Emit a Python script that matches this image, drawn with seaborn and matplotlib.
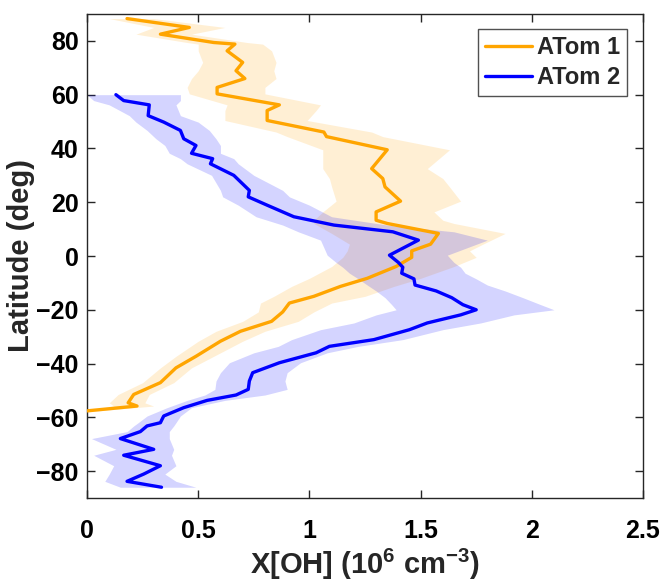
import numpy as np
import pandas as pd
import matplotlib
matplotlib.use("Agg")
import matplotlib.pyplot as plt
import seaborn as sns

# ATom 1 zonal-mean OH profile (latitude, mean, lower/upper spread)
lat_atom1 = [88.3, 85.0, 82.5, 79.4, 78.8, 76.3, 72.0, 68.9, 66.0, 62.7, 60.3,
             56.2, 54.1, 50.4, 46.1, 44.4, 39.5, 32.5, 28.8, 25.7, 20.4, 16.4,
             13.3, 12.1, 8.4, 4.4, 1.9, -0.5, -3.9, -8.3, -11.3, -15.0, -17.5,
             -20.8, -24.3, -28.0, -31.7, -37.3, -41.6, -47.1, -51.5, -54.6,
             -55.8, -57.6]
oh_atom1 = [0.18, 0.46, 0.33, 0.57, 0.665, 0.63, 0.70, 0.67, 0.71, 0.585, 0.585,
            0.865, 0.81, 0.81, 1.065, 1.077, 1.35, 1.28, 1.33, 1.34, 1.41, 1.30,
            1.30, 1.35, 1.58, 1.545, 1.46, 1.46, 1.39, 1.26, 1.14, 1.02, 0.91,
            0.88, 0.83, 0.69, 0.60, 0.49, 0.40, 0.33, 0.21, 0.185,
            0.225, 0.0]
lo_atom1 = [0.10, 0.30, 0.22, 0.45, 0.50, 0.50, 0.52, 0.50, 0.47, 0.45, 0.46,
            0.63, 0.62, 0.62, 0.85, 0.90, 1.06, 1.06, 1.09, 1.10, 1.12, 1.06,
            1.02, 1.02, 1.10, 1.18, 1.17, 1.15, 1.10, 1.00, 0.92, 0.84, 0.78,
            0.77, 0.70, 0.58, 0.50, 0.40, 0.33, 0.25, 0.14, 0.10,
            0.12, 0.0]
hi_atom1 = [0.30, 0.62, 0.47, 0.72, 0.79, 0.83, 0.85, 0.84, 0.85, 0.80, 0.80,
            1.05, 1.03, 0.99, 1.28, 1.33, 1.63, 1.53, 1.60, 1.63, 1.68, 1.56,
            1.60, 1.65, 1.88, 1.78, 1.72, 1.75, 1.65, 1.50, 1.38, 1.25, 1.10,
            1.02, 0.95, 0.80, 0.70, 0.57, 0.47, 0.39, 0.28, 0.26,
            0.30, 0.05]

# ATom 2 zonal-mean OH profile
lat_atom2 = [60.0, 57.8, 56.2, 52.2, 49.8, 46.7, 43.6, 41.1, 38.2, 36.2, 34.3,
             30.0, 24.4, 22.0, 18.9, 14.6, 11.5, 9.0, 5.9, 0.3, -2.4, -4.2,
             -6.4, -8.5, -10.8, -13.0, -15.5, -18.1, -20.0, -21.9, -24.9, -27.4,
             -31.1, -33.6, -36.0, -39.7, -43.4, -46.5, -49.6, -51.7, -53.7,
             -56.4, -59.5, -62.0, -63.2, -65.3, -67.9, -71.9, -74.1, -78.0,
             -81.1, -83.8, -86.0]
oh_atom2 = [0.13, 0.165, 0.28, 0.275, 0.345, 0.42, 0.435, 0.49, 0.47, 0.565, 0.555,
            0.66, 0.73, 0.725, 0.81, 0.93, 1.11, 1.375, 1.49, 1.36, 1.40, 1.42,
            1.415, 1.47, 1.475, 1.57, 1.64, 1.69, 1.75, 1.68, 1.53, 1.45,
            1.29, 1.09, 1.03, 0.865, 0.745, 0.73, 0.725, 0.67, 0.54,
            0.435, 0.345, 0.33, 0.27, 0.24, 0.15, 0.30, 0.165, 0.33,
            0.255, 0.18, 0.335]
lo_atom2 = [0.00, 0.03, 0.10, 0.19, 0.22, 0.27, 0.31, 0.35, 0.37, 0.42, 0.45,
            0.56, 0.60, 0.61, 0.68, 0.76, 0.88, 0.95, 1.05, 1.08, 1.12, 1.15,
            1.18, 1.22, 1.26, 1.30, 1.34, 1.37, 1.39, 1.30, 1.20, 1.05,
            0.92, 0.86, 0.75, 0.64, 0.60, 0.58, 0.575, 0.53, 0.45,
            0.36, 0.27, 0.23, 0.21, 0.18, 0.02, 0.13, 0.03, 0.12,
            0.10, 0.08, 0.15]
hi_atom2 = [0.42, 0.42, 0.40, 0.42, 0.50, 0.55, 0.58, 0.60, 0.60, 0.66, 0.68,
            0.75, 0.88, 0.91, 1.00, 1.10, 1.35, 1.65, 1.80, 1.62, 1.65, 1.68,
            1.70, 1.75, 1.80, 1.88, 1.96, 2.04, 2.10, 1.92, 1.77, 1.60,
            1.42, 1.22, 1.08, 0.96, 0.90, 0.89, 0.90, 0.80, 0.62,
            0.47, 0.42, 0.40, 0.39, 0.37, 0.37, 0.39, 0.38, 0.40,
            0.35, 0.40, 0.49]

campaigns = ["ATom 1", "ATom 2"]
colors = {"ATom 1": "#FFA500", "ATom 2": "#0000FF"}
x_ticks = [0, 0.5, 1, 1.5, 2, 2.5]
x_tick_labels = ["0", "0.5", "1", "1.5", "2", "2.5"]
y_ticks = [-80, -60, -40, -20, 0, 20, 40, 60, 80]

df = pd.concat([
    pd.DataFrame({"lat": lat_atom1, "oh": oh_atom1, "lo": lo_atom1,
                  "hi": hi_atom1, "campaign": "ATom 1"}),
    pd.DataFrame({"lat": lat_atom2, "oh": oh_atom2, "lo": lo_atom2,
                  "hi": hi_atom2, "campaign": "ATom 2"}),
], ignore_index=True)

sns.set_theme(style="white")
plt.rcParams["font.family"] = ["Liberation Sans", "DejaVu Sans"]
plt.rcParams["font.weight"] = "bold"
plt.rcParams["mathtext.fontset"] = "custom"
plt.rcParams["mathtext.rm"] = "Liberation Sans:bold"
plt.rcParams["mathtext.bf"] = "Liberation Sans:bold"
plt.rcParams["mathtext.default"] = "rm"

fig = plt.figure(figsize=(6.65, 5.85), dpi=100)
ax = fig.add_axes([87 / 665, 87 / 585, (643 - 87) / 665, (498 - 14) / 585])

# shaded spread behind each profile
for name in campaigns:
    sub = df[df["campaign"] == name]
    ax.fill_betweenx(sub["lat"], sub["lo"], sub["hi"], color=colors[name],
                     alpha=0.17, linewidth=0, zorder=1)

sns.lineplot(data=df, x="oh", y="lat", hue="campaign", palette=colors,
             hue_order=campaigns, orient="y", estimator=None, sort=True,
             linewidth=2.4, ax=ax, zorder=3)

ax.set_xlim(0, 2.5)
ax.set_ylim(-90, 90)
ax.set_xticks(x_ticks)
ax.set_xticklabels(x_tick_labels)
ax.set_yticks(y_ticks)

ax.tick_params(axis="both", direction="in", length=6, width=1, colors="#262626",
               labelcolor="black", labelsize=18, bottom=True, left=True,
               top=True, right=True)
ax.tick_params(axis="x", pad=15)
ax.tick_params(axis="y", pad=6)
for lab in ax.get_xticklabels() + ax.get_yticklabels():
    lab.set_fontweight("bold")
for sp in ax.spines.values():
    sp.set_color("#262626")
    sp.set_linewidth(1.0)

ax.set_xlabel(r"X[OH] (10$^{6}$ cm$^{-3}$)", fontsize=21, fontweight="bold",
              labelpad=3)
ax.set_ylabel("Latitude (deg)", fontsize=21, fontweight="bold", labelpad=1)

leg = ax.legend(loc="upper right", bbox_to_anchor=(0.972, 0.969), fontsize=17,
                frameon=True, fancybox=False, handlelength=2.0, handletextpad=0.2,
                borderpad=0.3, labelspacing=0.3, borderaxespad=0)
leg.get_frame().set_edgecolor("#262626")
leg.get_frame().set_linewidth(1.0)
for t in leg.get_texts():
    t.set_fontweight("bold")
for line in leg.get_lines():
    line.set_linewidth(2.4)

fig.savefig("out.png", dpi=100)
